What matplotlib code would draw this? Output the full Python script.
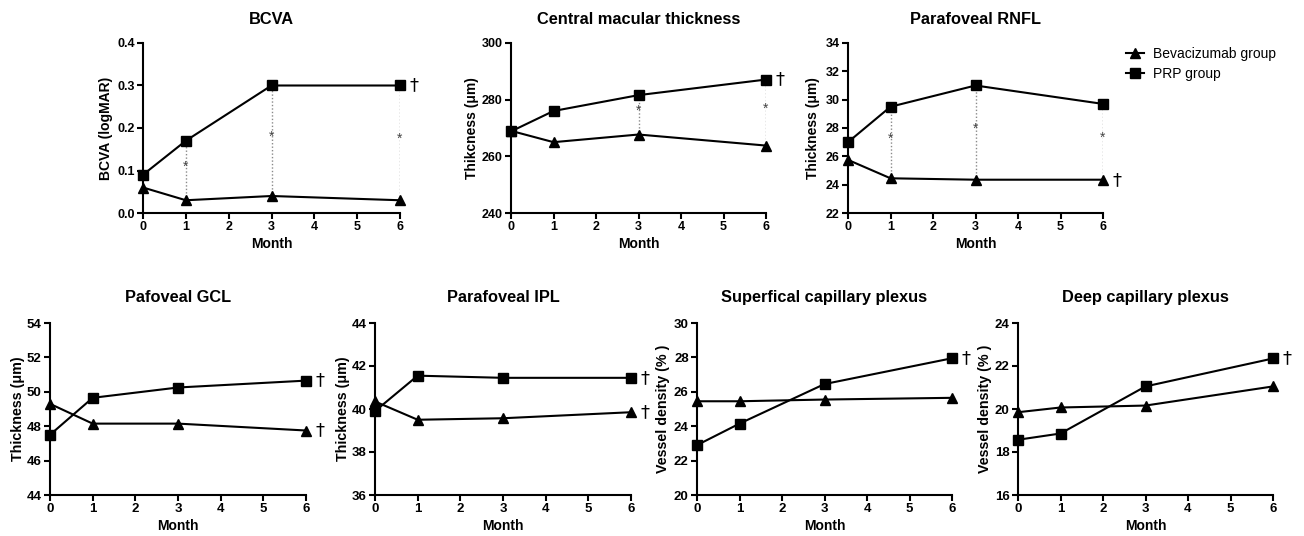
import matplotlib
matplotlib.use("Agg")
import matplotlib.pyplot as plt

months = [0, 1, 3, 6]

titles = ["BCVA", "Central macular thickness", "Parafoveal RNFL",
          "Pafoveal GCL", "Parafoveal IPL", "Superfical capillary plexus", "Deep capillary plexus"]
ylabels = ["BCVA (logMAR)", "Thikcness (\u03bcm)", "Thickness (\u03bcm)",
           "Thickness (\u03bcm)", "Thickness (\u03bcm)", "Vessel density (% )", "Vessel density (% )"]

bev_bcva = [0.06, 0.03, 0.04, 0.03]
prp_bcva = [0.09, 0.17, 0.30, 0.30]
bev_cmt = [269, 265, 267.7, 263.8]
prp_cmt = [268.8, 276, 281.6, 287.1]
bev_rnfl = [25.75, 24.45, 24.35, 24.35]
prp_rnfl = [27.0, 29.5, 31.0, 29.7]
bev_gcl = [49.3, 48.15, 48.15, 47.75]
prp_gcl = [47.5, 49.65, 50.25, 50.65]
bev_ipl = [40.35, 39.5, 39.57, 39.85]
prp_ipl = [39.9, 41.55, 41.45, 41.45]
bev_scp = [25.45, 25.45, 25.55, 25.65]
prp_scp = [22.9, 24.15, 26.45, 27.95]
bev_dcp = [19.85, 20.07, 20.16, 21.05]
prp_dcp = [18.57, 18.86, 21.05, 22.35]

bev_all = [bev_bcva, bev_cmt, bev_rnfl, bev_gcl, bev_ipl, bev_scp, bev_dcp]
prp_all = [prp_bcva, prp_cmt, prp_rnfl, prp_gcl, prp_ipl, prp_scp, prp_dcp]

ylims = [(0, 0.4), (240, 300), (22, 34), (44, 54), (36, 44), (20, 30), (16, 24)]
yticks = [[0.0, 0.1, 0.2, 0.3, 0.4], [240, 260, 280, 300], [22, 24, 26, 28, 30, 32, 34],
          [44, 46, 48, 50, 52, 54], [36, 38, 40, 42, 44], [20, 22, 24, 26, 28, 30], [16, 18, 20, 22, 24]]
ytick_fmt = ["{:.1f}", "{:.0f}", "{:.0f}", "{:.0f}", "{:.0f}", "{:.0f}", "{:.0f}"]

# months with significant difference (asterisk)
star_months = [[1, 3, 6], [3, 6], [1, 3, 6], [], [], [], []]
# dagger marks at month 6: which groups
dagger_prp = [True, True, False, True, True, True, True]
dagger_bev = [False, False, True, True, True, False, False]

# axes rectangles in pixels: left, top, right, bottom
boxes = [(143, 43, 400, 213), (511, 43, 766, 213), (848, 43, 1103, 213),
         (50, 323, 306, 495), (375, 323, 631, 495), (697, 323, 952, 495), (1018, 323, 1273, 495)]
# distance of y label centre left of the axis, px
ylab_off = [37, 39, 35, 32, 32, 34, 33]

W, H = 1304, 536
plt.rcParams['font.family'] = ['Liberation Sans', 'DejaVu Sans']

fig = plt.figure(figsize=(W / 100, H / 100), dpi=100)

for i in range(7):
    l, t, r, b = boxes[i]
    ax = fig.add_axes([l / W, 1 - b / H, (r - l) / W, (b - t) / H])
    ax.set_facecolor('none')
    fs_k = 9 if i < 3 else 9.5
    fs_y = 10 if i < 3 else 10.3
    ax.plot(months, bev_all[i], color='black', lw=1.5, marker='^', ms=6.5,
            clip_on=False, zorder=3, label='Bevacizumab group')
    ax.plot(months, prp_all[i], color='black', lw=1.5, marker='s', ms=6.5,
            clip_on=False, zorder=3, label='PRP group')
    for m in star_months[i]:
        k = months.index(m)
        hi, lo = prp_all[i][k], bev_all[i][k]
        ax.plot([m, m], [lo, hi], color='#8a8a8a', lw=1.0, dashes=(1, 1.5), zorder=1)
        ax.annotate('*', (m, (hi + lo) / 2), xytext=(0, 3), textcoords='offset points',
                    color='#444444', fontsize=10, ha='center', va='center')
    if dagger_prp[i]:
        ax.annotate('\u2020', (6, prp_all[i][3]), xytext=(7, 0), textcoords='offset points',
                    fontsize=13, va='center', ha='left', family='DejaVu Sans', annotation_clip=False)
    if dagger_bev[i]:
        ax.annotate('\u2020', (6, bev_all[i][3]), xytext=(7, 0), textcoords='offset points',
                    fontsize=13, va='center', ha='left', family='DejaVu Sans', annotation_clip=False)
    ax.set_xlim(0, 6)
    ax.set_ylim(*ylims[i])
    ax.set_xticks(range(7))
    ax.set_xticklabels([str(v) for v in range(7)], fontweight='bold', fontsize=fs_k)
    ax.set_yticks(yticks[i])
    ax.set_yticklabels([ytick_fmt[i].format(v) for v in yticks[i]], fontweight='bold',
                       fontsize=fs_k)
    for s in ['top', 'right']:
        ax.spines[s].set_visible(False)
    for s in ['left', 'bottom']:
        ax.spines[s].set_linewidth(1.5)
    ax.tick_params(direction='out', length=4, width=1.5, pad=2)
    ax.set_xlabel('Month', fontweight='bold', fontsize=10, labelpad=3)
    ax.set_ylabel(ylabels[i], fontweight='bold', fontsize=fs_y)
    ax.yaxis.set_label_coords(-ylab_off[i] / (r - l), 0.5)
    ax.yaxis.label.set_va('center')
    ax.set_title(titles[i], fontweight='bold', fontsize=11.8, pad=14 if i < 3 else 15)
    if i == 2:
        ax.legend(loc='upper left', bbox_to_anchor=(1.07, 1.01), frameon=False,
                  prop=dict(size=10), handlelength=1.3, handletextpad=0.6,
                  labelspacing=0.45, borderaxespad=0)

plt.savefig("out.png", dpi=100)
plt.close()
